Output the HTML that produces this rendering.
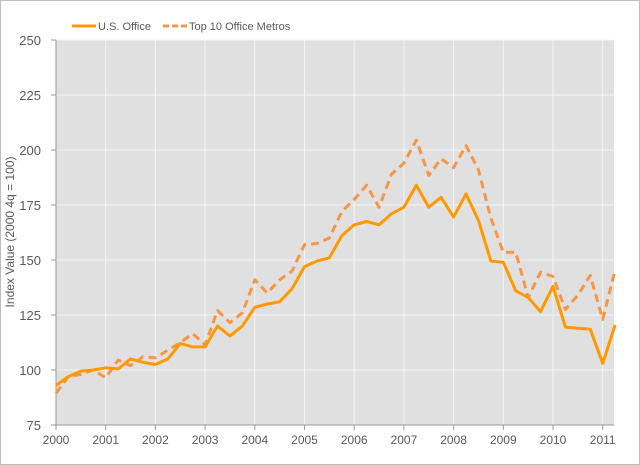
<!DOCTYPE html>
<html><head><meta charset="utf-8"><style>
html,body{margin:0;padding:0;background:#fff}
svg{display:block;font-family:"Liberation Sans",sans-serif}
</style></head><body>
<svg id="s" width="640" height="465" viewBox="0 0 640 465" xmlns="http://www.w3.org/2000/svg">
<rect x="0.5" y="0.5" width="639" height="464" fill="#fff" stroke="#bdbdbd"/>
<rect x="56" y="40" width="558" height="385" fill="#e0e0e0"/>
<g id="grid" stroke="#f4f4f4" stroke-width="1"></g>
<line x1="56" y1="40" x2="56" y2="425" stroke="#9a9a9a"/>
<line x1="56" y1="425" x2="614" y2="425" stroke="#9a9a9a"/>
<g id="lab" font-size="12" fill="#595959"></g>
<text transform="translate(14,232) rotate(-90)" text-anchor="middle" font-size="12" fill="#595959">Index Value (2000 4q = 100)</text>
<line x1="72" y1="26" x2="96" y2="26" stroke="#ff9900" stroke-width="3"/>
<text x="98" y="30" font-size="11" fill="#595959">U.S. Office</text>
<line x1="163" y1="26" x2="188" y2="26" stroke="#f79646" stroke-width="3" stroke-dasharray="6,3"/>
<text x="189" y="30" font-size="11" fill="#595959">Top 10 Office Metros</text>
<polyline id="p2" fill="none" stroke="#f79646" stroke-width="3" stroke-dasharray="8,5" stroke-linejoin="round"/>
<polyline id="p1" fill="none" stroke="#ff9900" stroke-width="3" stroke-linejoin="round"/>
</svg>
<script>
var a=[93,97,99.5,100,101,100.5,105,103.5,102.5,105,112,110.5,110.5,120,115.5,120,128.5,130,131,137,147,149.5,151,161,166,167.5,166,171,174,184,174,178.5,169.5,180,168,149.5,149,136,133,126.5,138,119.5,119,118.5,103,120.5];
var b=[89.5,97,98,100,96.5,104.5,102,106,105.5,109,112.5,116.5,111.5,127,121.5,126,141,135,141,145,157,157.5,160,172,177.5,184,174,189,194,204.5,188.5,196,192,202,191,169,153.5,153.5,133,144.5,142.5,127.5,134,143,123,145.5];
function X(i){return 56+i*49.7/4}function Y(v){return 425-(v-75)*2.2}
document.getElementById('p1').setAttribute('points',a.map(function(v,i){return X(i)+','+Y(v)}).join(' '));
document.getElementById('p2').setAttribute('points',b.map(function(v,i){return X(i)+','+Y(v)}).join(' '));
var g=document.getElementById('grid'),l=document.getElementById('lab'),ns='http://www.w3.org/2000/svg',h='';
var gl='',lb='';
for(var v=100;v<=250;v+=25){gl+='<line x1="56" x2="614" y1="'+Y(v)+'" y2="'+Y(v)+'"/>';}
for(var v=75;v<=250;v+=25){lb+='<text x="41" y="'+(Y(v)+5)+'" text-anchor="end" font-size="13">'+v+'</text><line x1="51" x2="56" y1="'+Y(v)+'" y2="'+Y(v)+'" stroke="#9a9a9a"/>';}
for(var y=0;y<=11;y++){var x=56+y*49.7;if(y>0)gl+='<line x1="'+x+'" x2="'+x+'" y1="40" y2="425"/>';lb+='<text x="'+x+'" y="444" text-anchor="middle">'+(2000+y)+'</text><line x1="'+x+'" x2="'+x+'" y1="425" y2="430" stroke="#9a9a9a"/>';}
g.innerHTML=gl;l.innerHTML=lb;
</script>
</body></html>
